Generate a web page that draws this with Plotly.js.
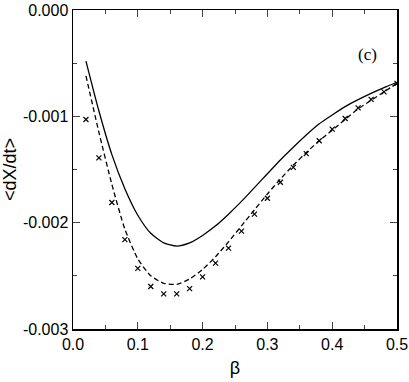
<!DOCTYPE html>
<html>
<head>
<meta charset="utf-8">
<script src="https://cdn.plot.ly/plotly-3.0.1.min.js"></script>
<style>
  html, body { margin: 0; padding: 0; background: #fff; }
  #chart { width: 409px; height: 382px; }
</style>
</head>
<body>
<div id="chart"></div>
<script>
// beta grid shared by the three series
const beta = [0.02, 0.04, 0.06, 0.08, 0.10, 0.12, 0.14, 0.16, 0.18, 0.20, 0.22, 0.24, 0.26,
              0.28, 0.30, 0.32, 0.34, 0.36, 0.38, 0.40, 0.42, 0.44, 0.46, 0.48, 0.50];

// solid curve
const solidVals = [-0.00048, -0.00095, -0.00136, -0.00168, -0.00193, -0.00210, -0.00219, -0.00222,
                   -0.00219, -0.00212, -0.00203, -0.00192, -0.00180, -0.00167, -0.00154, -0.00141,
                   -0.00129, -0.001175, -0.00107, -0.000987, -0.000909, -0.000843, -0.000784, -0.00073, -0.00068];

// dashed curve
const dashedVals = [-0.00062, -0.00115, -0.00164, -0.00206, -0.00234, -0.00250, -0.00257, -0.00258,
                    -0.00253, -0.00244, -0.00232, -0.00218, -0.00203, -0.00188, -0.00173, -0.00159,
                    -0.00146, -0.00134, -0.00123, -0.00113, -0.00103, -0.00093, -0.00085, -0.00077, -0.00069];

// crosses (simulation)
const crossVals = [-0.00103, -0.00139, -0.00181, -0.00216, -0.00243, -0.00260, -0.00267, -0.00267,
                   -0.00262, -0.00251, -0.00238, -0.00224, -0.00208, -0.00192, -0.00177, -0.00162,
                   -0.00148, -0.00135, -0.00123, -0.00112, -0.00102, -0.00092, -0.00084, -0.00077, -0.00069];

const yTickVals = [0, -0.001, -0.002, -0.003];
const yTickText = ['0.000', '-0.001', '-0.002', '-0.003'];

const font = '"Liberation Sans", Arial, Helvetica, sans-serif';

const traces = [
  {
    x: beta, y: solidVals, type: 'scatter', mode: 'lines',
    line: { color: '#000', width: 1.3, shape: 'spline', smoothing: 0.6 }, showlegend: false
  },
  {
    x: beta, y: dashedVals, type: 'scatter', mode: 'lines',
    line: { color: '#000', width: 1.3, dash: '5px,3px', shape: 'spline', smoothing: 0.6 }, showlegend: false
  },
  {
    x: beta, y: crossVals, type: 'scatter', mode: 'markers',
    marker: { symbol: 'x-thin', size: 5, line: { color: '#000', width: 1.2 } },
    showlegend: false
  }
];

const layout = {
  width: 409,
  height: 382,
  margin: { l: 73, r: 12, t: 10, b: 53 },
  paper_bgcolor: '#fff',
  plot_bgcolor: '#fff',
  font: { family: font, color: '#000', size: 16 },
  xaxis: {
    range: [0, 0.5],
    dtick: 0.1,
    tick0: 0,
    tickformat: '.1f',
    ticks: 'inside',
    ticklen: 7,
    tickwidth: 1,
    minor: { dtick: 0.05, ticks: 'inside', ticklen: 4, tickwidth: 1 },
    showline: true,
    linewidth: 1.5,
    linecolor: '#000',
    mirror: 'ticks',
    showgrid: false,
    zeroline: false,
    tickfont: { size: 16 },
    title: { text: 'β', font: { size: 18 }, standoff: 9 }
  },
  yaxis: {
    range: [-0.003, 0],
    tickmode: 'array',
    tickvals: yTickVals,
    ticktext: yTickText,
    ticks: 'inside',
    ticklen: 7,
    tickwidth: 1,
    minor: { dtick: 0.0005, ticks: 'inside', ticklen: 4, tickwidth: 1 },
    showline: true,
    linewidth: 1.5,
    linecolor: '#000',
    mirror: 'ticks',
    showgrid: false,
    zeroline: false,
    tickfont: { size: 16 },
    title: { text: '&lt;dX/dt&gt;', font: { size: 18 }, standoff: 7 }
  },
  annotations: [
    {
      text: '(c)', xref: 'x', yref: 'y', x: 0.454, y: -0.00042,
      showarrow: false, font: { family: '"Liberation Serif", "Times New Roman", serif', size: 17 }
    }
  ]
};

Plotly.newPlot('chart', traces, layout, { displayModeBar: false, staticPlot: true });
</script>
</body>
</html>
